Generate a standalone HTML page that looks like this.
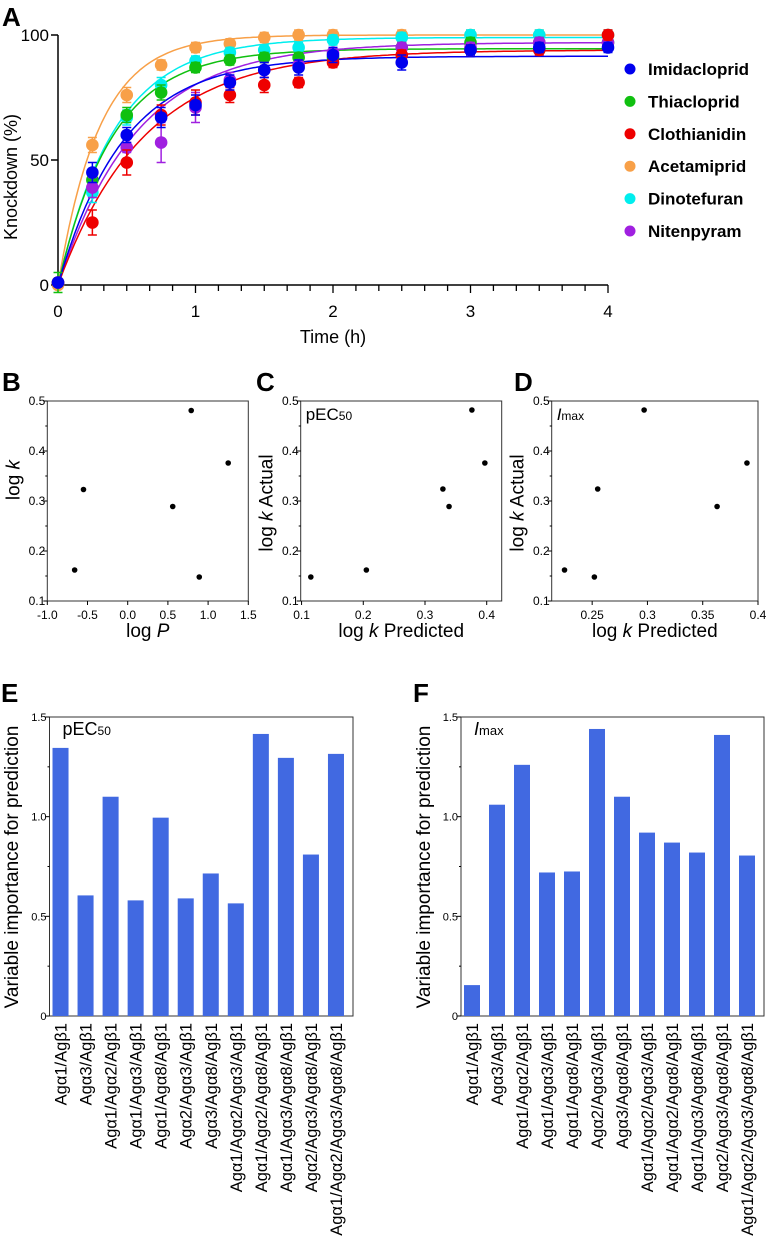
<!DOCTYPE html>
<html><head><meta charset="utf-8"><style>
body{margin:0;background:#fff;}
svg text{font-family:"Liberation Sans",sans-serif;}
</style></head><body>
<svg id="fig" width="767" height="1246" xmlns="http://www.w3.org/2000/svg"></svg>
<script>
// ---- Panel A data ----
const timesA = [0,0.25,0.5,0.75,1,1.25,1.5,1.75,2,2.5,3,3.5,4];
const seriesNames = ["Imidacloprid","Thiacloprid","Clothianidin","Acetamiprid","Dinotefuran","Nitenpyram"];
const seriesColors = ["#0000ee","#10c010","#ee0000","#f8a048","#00eeee","#a020e0"];
const imidaVals = [1,45,60,67,72,81,86,87,92,89,94,95,95];
const thiaVals = [1,42,68,77,87,90,91,91,91,95,97,97,97];
const clothVals = [1,25,49,68,73,76,80,81,89,92,94,94,100];
const acetVals = [0,56,76,88,95,96.5,99,100,100,100,100,100,100];
const dinoVals = [1,37,67,80,89.6,93,94,95,98,99,100,100,100];
const niteVals = [1,39,55,57,71,82,86,88,93,95,95,97,97];
const imidaErr = [1,4,3,4,4,3,3,3,3,3,2,2,2];
const thiaErr = [4,3,3,3,2,2,2,2,2,2,2,2,2];
const clothErr = [1,5,5,4,5,3,3,2,2,2,2,2,2];
const acetErr = [1,3,3,2,2,2,2,2,2,2,2,2,2];
const dinoErr = [1,4,3,3,2,2,2,2,2,2,2,2,2];
const niteErr = [1,4,2,8,6,3,3,2,2,2,2,2,2];
const fitPlateau = [91.5,94.5,94,100,99,97];
const fitRate = [2.1,2.5,1.6,3.3,2.4,1.75];
const xTicksA = [0,1,2,3,4];
const yTicksA = [0,50,100];

// ---- Panels B-D data ----
const logP = [-0.66,-0.55,0.56,0.79,0.89,1.25];
const logKB = [0.162,0.323,0.289,0.481,0.148,0.376];
const predC = [0.115,0.205,0.329,0.339,0.376,0.397];
const actC = [0.148,0.162,0.324,0.289,0.482,0.376];
const predD = [0.225,0.252,0.255,0.297,0.363,0.390];
const actD = [0.162,0.148,0.324,0.482,0.289,0.376];
const xTicksB = [-1.0,-0.5,0.0,0.5,1.0,1.5];
const xTicksC = [0.1,0.2,0.3,0.4];
const xTicksD = [0.25,0.3,0.35,0.4];
const yTicksBCD = [0.1,0.2,0.3,0.4,0.5];

// ---- Panels E-F data ----
const catsE = ["Agα1/Agβ1","Agα3/Agβ1","Agα1/Agα2/Agβ1","Agα1/Agα3/Agβ1","Agα1/Agα8/Agβ1","Agα2/Agα3/Agβ1","Agα3/Agα8/Agβ1","Agα1/Agα2/Agα3/Agβ1","Agα1/Agα2/Agα8/Agβ1","Agα1/Agα3/Agα8/Agβ1","Agα2/Agα3/Agα8/Agβ1","Agα1/Agα2/Agα3/Agα8/Agβ1"];
const valsE = [1.345,0.605,1.10,0.58,0.995,0.59,0.715,0.565,1.415,1.295,0.81,1.315];
const catsF = ["Agα1/Agβ1","Agα3/Agβ1","Agα1/Agα2/Agβ1","Agα1/Agα3/Agβ1","Agα1/Agα8/Agβ1","Agα2/Agα3/Agβ1","Agα3/Agα8/Agβ1","Agα1/Agα2/Agα3/Agβ1","Agα1/Agα2/Agα8/Agβ1","Agα1/Agα3/Agα8/Agβ1","Agα2/Agα3/Agα8/Agβ1","Agα1/Agα2/Agα3/Agα8/Agβ1"];
const valsF = [0.155,1.06,1.26,0.72,0.725,1.44,1.10,0.92,0.87,0.82,1.41,0.805];
const yTicksEF = [0,0.5,1.0,1.5];

const NS="http://www.w3.org/2000/svg";
const svg=document.getElementById('fig');
function el(tag,attrs,parent,txt){const e=document.createElementNS(NS,tag);for(const k in attrs)e.setAttribute(k,attrs[k]);if(txt!==undefined)e.textContent=txt;(parent||svg).appendChild(e);return e;}
function lin(d0,d1,r0,r1){return v=>r0+(v-d0)*(r1-r0)/(d1-d0);}

// Panel letters
[["A",2,26],["B",2,391],["C",256,391],["D",514,391],["E",1,702],["F",413,702]].forEach(p=>{
  const t=el('text',{x:p[1],y:p[2],'font-size':26,'font-weight':'bold'},svg,p[0]);
  
  
});

// ---- Panel A ----
(function(){
  const g=el('g',{});
  
  
  const X=lin(0,4,58,608), Y=lin(0,100,285,35);
  el('line',{x1:58,y1:35,x2:58,y2:285,stroke:'#000','stroke-width':1.5},g);
  el('line',{x1:58,y1:285,x2:608,y2:285,stroke:'#000','stroke-width':1.5},g);
  yTicksA.forEach(v=>{el('line',{x1:51,x2:58,y1:Y(v),y2:Y(v),stroke:'#000','stroke-width':1.5},g);
    el('text',{x:49,y:Y(v)+6,'font-size':17,'text-anchor':'end'},g,v);});
  for(let k=0;k<=24;k++){const t=k/6;el('line',{x1:X(t),x2:X(t),y1:285,y2:k%6===0?293:291,stroke:'#000','stroke-width':1.3},g);}
  xTicksA.forEach(v=>el('text',{x:X(v),y:317,'font-size':17,'text-anchor':'middle'},g,v));
  const xt=el('text',{x:333,y:343,'font-size':18,'text-anchor':'middle'},g,'Time (h)');
  
  const yt=el('text',{transform:'translate(17,177) rotate(-90)','font-size':18,'text-anchor':'middle'},g,'Knockdown (%)');
  
  const vals=[imidaVals,thiaVals,clothVals,acetVals,dinoVals,niteVals];
  const errs=[imidaErr,thiaErr,clothErr,acetErr,dinoErr,niteErr];
  const order=[3,4,1,5,2,0];
  order.forEach(i=>{
    let d='';for(let k=0;k<=200;k++){const t=4*k/200;const v=fitPlateau[i]*(1-Math.exp(-fitRate[i]*t));d+=(k?'L':'M')+X(t).toFixed(1)+','+Y(v).toFixed(1);}
    const c=el('path',{d:d,fill:'none',stroke:seriesColors[i],'stroke-width':1.5},g);
    
    
  });
  order.forEach(i=>{
    timesA.forEach((t,j)=>{
      const x=X(t),y=Y(vals[i][j]),e=errs[i][j]*2.5;
      el('path',{d:`M${x},${y-e}V${y+e}M${x-4.5},${y-e}H${x+4.5}M${x-4.5},${y+e}H${x+4.5}`,stroke:seriesColors[i],'stroke-width':1.5,fill:'none'},g);
      const p=el('circle',{cx:x,cy:y,r:6.3,fill:seriesColors[i]},g);
      
      
    });
  });
  seriesNames.forEach((n,i)=>{
    const y=69+i*32.4;
    const le=el('g',{},g);
    
    
    el('circle',{cx:630,cy:y,r:5.5,fill:seriesColors[i]},le);
    el('text',{x:648,y:y+6,'font-size':17,'font-weight':'bold'},le,n);
  });
})();

// ---- Scatter panels ----
function scatter(name,x0,x1,xd0,xd1,xs,ys,xt,xfmt,ylabel,ylabelY,xlabel,inset){
  const g=el('g',{});
  
  
  const X=lin(xd0,xd1,x0,x1), Y=lin(0.1,0.5,601,401);
  el('rect',{x:x0,y:401,width:x1-x0,height:200,fill:'none',stroke:'#333','stroke-width':1},g);
  yTicksBCD.forEach(v=>{el('line',{x1:x0-4,x2:x0,y1:Y(v),y2:Y(v),stroke:'#000'},g);
    el('text',{x:x0-2,y:Y(v)+4,'font-size':12,'text-anchor':'end'},g,v.toFixed(1));});
  for(let k=0;k<4;k++){const v=0.15+0.1*k;el('line',{x1:x0-2,x2:x0,y1:Y(v),y2:Y(v),stroke:'#000'},g);}
  xt.forEach(v=>{el('line',{x1:X(v),x2:X(v),y1:601,y2:605,stroke:'#000'},g);
    el('text',{x:X(v),y:619,'font-size':12,'text-anchor':'middle'},g,xfmt(v));});
  xs.forEach((v,i)=>{const p=el('circle',{cx:X(v),cy:Y(ys[i]),r:2.8,fill:'#000'},g);
    });
  const yl=el('text',{transform:`translate(${x0-28},${ylabelY}) rotate(-90)`,'font-size':19,'text-anchor':'middle'},g);
  yl.innerHTML=ylabel;
  
  const xl=el('text',{x:(x0+x1)/2,y:637,'font-size':19,'text-anchor':'middle'},g);
  xl.innerHTML=xlabel;
  
  if(inset){const t=el('text',{x:x0+5,y:420,'font-size':17},g);t.innerHTML=inset;
    }
}
scatter('logk-vs-logp',47.3,248.3,-1.0,1.5,logP,logKB,xTicksB,v=>v.toFixed(1),'log <tspan font-style="italic">k</tspan>',480,'log <tspan font-style="italic">P</tspan>');
scatter('pec50-model',300.7,501.7,0.0986,0.4243,predC,actC,xTicksC,v=>v.toFixed(1),'log <tspan font-style="italic">k</tspan> Actual',503,'log <tspan font-style="italic">k</tspan> Predicted','pEC<tspan font-size="12">50</tspan>');
scatter('imax-model',551.7,758,0.2134,0.4,predD,actD,xTicksD,v=>String(v),'log <tspan font-style="italic">k</tspan> Actual',503,'log <tspan font-style="italic">k</tspan> Predicted','<tspan font-style="italic">I</tspan><tspan font-size="12">max</tspan>');

// ---- Bar panels ----
function bars(name,x0,x1,cats,vals,inset,titleX){
  const g=el('g',{});
  
  
  const Y=lin(0,1.5,1016,717);
  const slot=(x1-x0-3)/cats.length, bw=slot*0.64;
  el('rect',{x:x0,y:717,width:x1-x0,height:299,fill:'none',stroke:'#333','stroke-width':1},g);
  yTicksEF.forEach(v=>{el('line',{x1:x0-4,x2:x0,y1:Y(v),y2:Y(v),stroke:'#000'},g);
    el('text',{x:x0-3,y:Y(v)+4,'font-size':11,'text-anchor':'end'},g,v===0?'0':v.toFixed(1));});
  for(let k=0;k<3;k++){const v=0.25+0.5*k;el('line',{x1:x0-2,x2:x0,y1:Y(v),y2:Y(v),stroke:'#000'},g);}
  cats.forEach((c,i)=>{
    const cx=x0+2+slot*i+bw/2+1;
    const r=el('rect',{x:cx-bw/2,y:Y(vals[i]),width:bw,height:1016-Y(vals[i]),fill:'#4169e1'},g);
    
    
    const t=el('text',{transform:`translate(${cx+6},1023) rotate(-90)`,'font-size':16.5,'text-anchor':'end'},g,c);
    
    
  });
  const yl=el('text',{transform:`translate(${titleX},867) rotate(-90)`,'font-size':19,'text-anchor':'middle'},g,'Variable importance for prediction');
  
  const t=el('text',{x:x0+13,y:735,'font-size':18},g);t.innerHTML=inset;
  
}
bars('pec50-importance-chart',49.5,353,catsE,valsE,'pEC<tspan font-size="12">50</tspan>',18);
bars('imax-importance-chart',461,764,catsF,valsF,'<tspan font-style="italic">I</tspan><tspan font-size="13">max</tspan>',430);
</script>
</body></html>
